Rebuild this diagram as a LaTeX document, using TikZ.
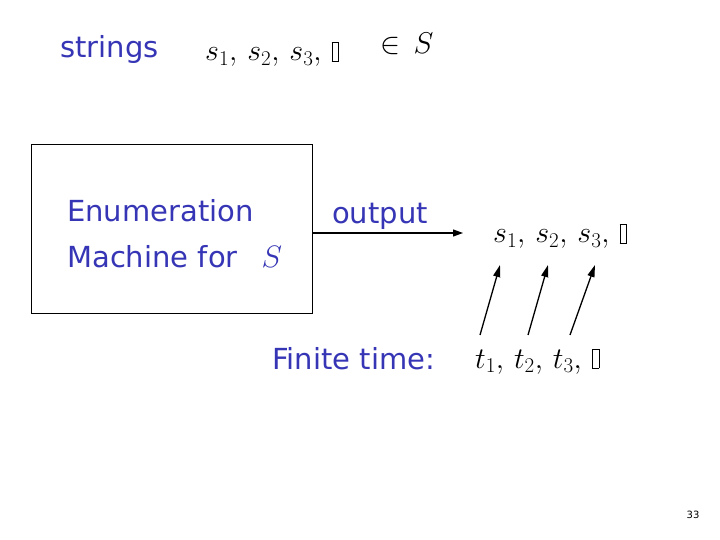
\RequirePackage{fix-cm}
\documentclass[tikz,border=0pt]{standalone}
\usepackage{fontspec}
\setmainfont{DejaVu Sans}
\usepackage{tikz}
\usetikzlibrary{arrows.meta, positioning}
\definecolor{SlideBlue}{HTML}{3535B5}
\newcommand{\tofu}{\mbox{\setlength{\fboxsep}{0pt}\setlength{\fboxrule}{0.6pt}\fbox{\rule{0.2em}{0pt}\rule{0pt}{0.62em}}}}
\tikzset{
    % Blue slide text
    slide text/.style={
        text=SlideBlue,
        font=\fontsize{29}{34}\selectfont,
        inner sep=0pt
    },
    % Math strings
    math text/.style={
        text=black,
        font=\fontsize{30}{36}\selectfont,
        inner sep=0pt
    },
    machine box/.style={
        rectangle,
        draw=black,
        line width=0.8pt,
        minimum width=281pt,
        minimum height=169pt
    },
    arrow style/.style={
        -{Triangle[length=10pt,width=7pt]},
        line width=1.1pt,
        black
    },
    time arrow/.style={
        -{Triangle[length=12pt,width=7pt]},
        line width=1.3pt,
        black
    }
}
\begin{document}
\begin{tikzpicture}[x=1pt, y=-1pt]
        \useasboundingbox (0,0) rectangle (720,540);

        % Top line
        \node[slide text, anchor=base west] (strings) at (60,58) {strings};
        \node[math text, anchor=base west] (set) at (205,61) {$s_1,\, s_2,\, s_3,\, \tofu$};
        \node[math text, anchor=base west] (inS) at (380,54) {$\in\, S$};

        % Enumeration machine
        \node[machine box] (box) at (171.5,228.5) {};
        \node[slide text, anchor=base west] (enum) at (67,222) {Enumeration};
        \node[slide text, anchor=base west] (mach) at (67,267) {Machine for\hspace{24pt}{\fontsize{31}{36}\selectfont$S$}};

        % Output
        \node[slide text, anchor=base west] (output) at (332,224) {output};
        \node[math text, anchor=base west] (outs) at (493,243) {$s_1,\, s_2,\, s_3,\, \tofu$};
        \coordinate (outtip) at (463,233);
        \draw[arrow style] (box.east |- outtip) -- (outtip);

        % Finite time
        \node[slide text, anchor=base west] (finite) at (272,369) {Finite time:};
        \node[math text, anchor=base west] (times) at (475,368) {$t_1,\, t_2,\, t_3,\, \tofu$};

        \coordinate (ta) at (480,335);
        \coordinate (tb) at (528,335);
        \coordinate (tc) at (570,335);
        \coordinate (sa) at (500,265);
        \coordinate (sb) at (548,265);
        \coordinate (sc) at (595,265);
        \draw[time arrow] (ta) -- (sa);
        \draw[time arrow] (tb) -- (sb);
        \draw[time arrow] (tc) -- (sc);

        % Page number
        \node[font=\fontsize{10}{12}\selectfont, inner sep=0pt] (page) at (693,515) {33};
\end{tikzpicture}
\end{document}
